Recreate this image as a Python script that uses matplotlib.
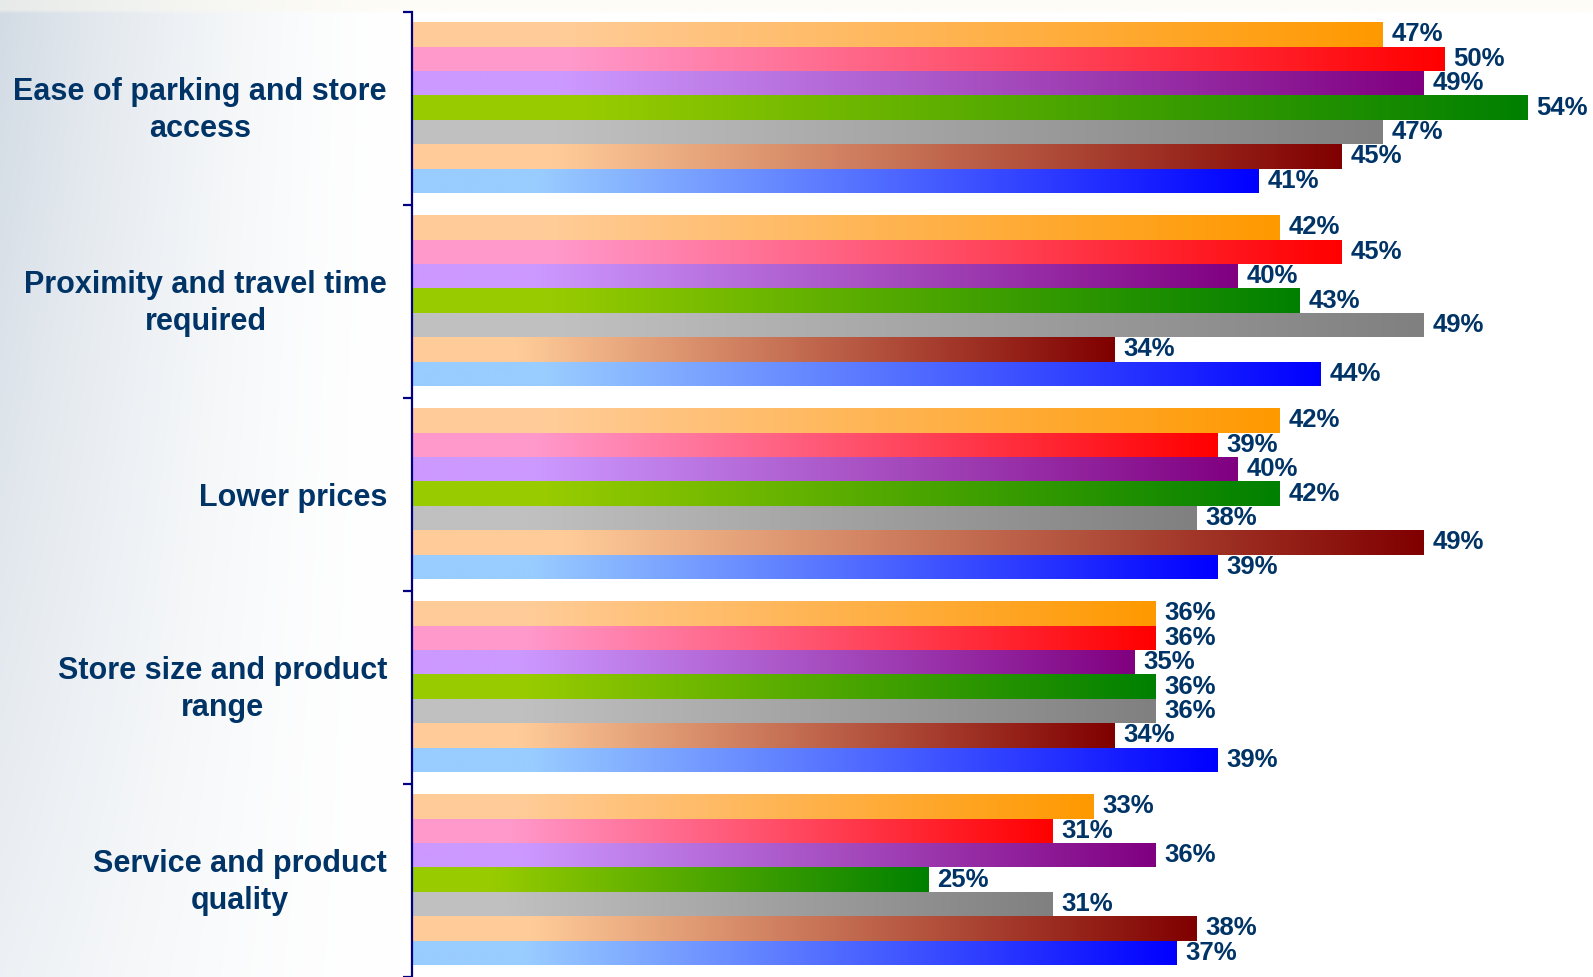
import numpy as np
import matplotlib
matplotlib.use("Agg")
from matplotlib import pyplot as plt
from matplotlib.colors import to_rgb
from matplotlib.transforms import ScaledTranslation

plt.rcParams['font.family'] = ['Liberation Sans', 'DejaVu Sans']

# survey reasons and the share of respondents per group (%)
categories = ["Ease of parking and store\naccess",
              "Proximity and travel time\nrequired",
              "Lower prices",
              "Store size and product\nrange",
              "Service and product\nquality"]
series1 = [47, 42, 42, 36, 33]
series2 = [50, 45, 39, 36, 31]
series3 = [49, 40, 40, 35, 36]
series4 = [54, 43, 42, 36, 25]
series5 = [47, 49, 38, 36, 31]
series6 = [45, 34, 49, 34, 38]
series7 = [41, 44, 39, 39, 37]
all_series = [series1, series2, series3, series4, series5, series6, series7]

# (light, dark) pairs for the horizontal gradient of each series
gradients = [("#FFCC99", "#FF9900"),
             ("#FF99CC", "#FF0000"),
             ("#CC99FF", "#800080"),
             ("#99CC00", "#008000"),
             ("#C0C0C0", "#808080"),
             ("#FFCC99", "#800000"),
             ("#99CCFF", "#0000FF")]

navy = "#003366"

fig = plt.figure(figsize=(15.93, 9.77), dpi=100)

# soft blue-grey wash on the left of the slide
bg = fig.add_axes([0, 0, 1, 1], zorder=-10)
W, H = 400, 250
xx, yy = np.meshgrid(np.linspace(0, 1, W), np.linspace(0, 1, H))
w = np.clip(1 - xx / 0.25, 0, 1) ** 1.6 * (1 - 0.6 * yy)
base = np.array(to_rgb("#D2DBE4"))
img = np.ones((H, W, 3)) * (1 - w[..., None]) + base * w[..., None]
# faint cream strip along the top edge
top = yy < 0.009
img[top] = img[top] * 0.5 + np.array(to_rgb("#FBF9EE")) * 0.5
bg.imshow(img, extent=[0, 1, 0, 1], aspect='auto', interpolation='bilinear')
bg.set_axis_off()

ax = fig.add_axes([412 / 1593, 0, 1 - 412 / 1593, 1 - 12 / 977])
ax.set_facecolor('none')

n_series = len(all_series)
group = 0.885
bar_h = group / n_series
y_idx = np.arange(len(categories))

# light colour holds for the first part of each bar, then blends to dark
ramp = np.clip((np.linspace(0, 1, 256) - 0.15) / 0.85, 0, 1)[:, None]

for j, (vals, (c0, c1)) in enumerate(zip(all_series, gradients)):
    grad = (1 - ramp) * np.array(to_rgb(c0)) + ramp * np.array(to_rgb(c1))
    grad = grad[None, :, :]
    yc = y_idx - group / 2 + (j + 0.5) * bar_h - 0.005
    bars = ax.barh(yc, vals, height=bar_h, color='none', linewidth=0)
    for rect, v in zip(bars, vals):
        y0 = rect.get_y()
        im = ax.imshow(grad, extent=[0, v, y0 + rect.get_height(), y0],
                       aspect='auto', interpolation='bilinear', zorder=2)
        im.set_clip_path(rect)
        ax.annotate(f"{v}%", xy=(v, rect.get_y() + rect.get_height() / 2),
                    xytext=(6.5, 0), textcoords='offset points',
                    ha='left', va='center', fontsize=18.5, fontweight='bold',
                    color=navy, zorder=5)

ax.set_xlim(0, (1593 - 412) / 20.65)
ax.set_ylim(len(categories) - 0.5, -0.5)

ax.set_yticks(y_idx)
ax.set_yticklabels(categories, fontsize=22, fontweight='bold', color=navy,
                   multialignment='center', linespacing=1.3)
ax.tick_params(axis='y', which='major', length=0, pad=18)
# two-line labels sit a little above the group centre
nudge = ScaledTranslation(0, 0.05, fig.dpi_scale_trans)
for lbl in ax.get_yticklabels():
    if "\n" in lbl.get_text():
        lbl.set_transform(lbl.get_transform() + nudge)
ax.set_yticks(np.arange(-0.5, len(categories), 1.0), minor=True)
ax.tick_params(axis='y', which='minor', length=6.5, width=1.6, color="#000080")
ax.set_xticks([])

for side in ['top', 'right', 'bottom']:
    ax.spines[side].set_visible(False)
ax.spines['left'].set_color("#000080")
ax.spines['left'].set_linewidth(1.6)

fig.savefig("out.png", dpi=100)
